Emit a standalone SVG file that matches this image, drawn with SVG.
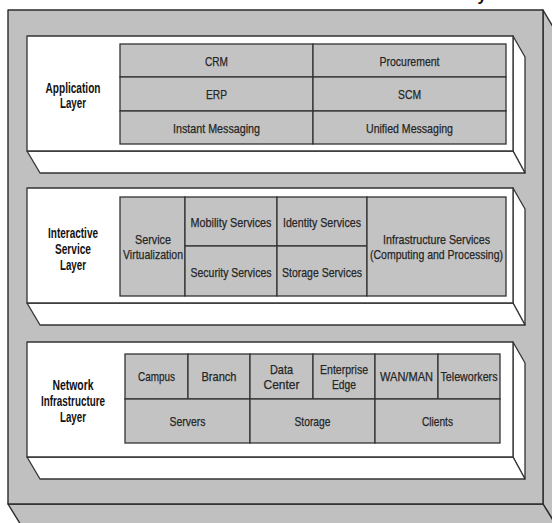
<svg xmlns="http://www.w3.org/2000/svg" width="552" height="523" viewBox="0 0 552 523">
  <style>
    .frame { fill: #c0c0c0; stroke: #2b2b2b; stroke-width: 1.4; stroke-linejoin: round; }
    .tray { fill: #ffffff; stroke: #333333; stroke-width: 1.3; stroke-linejoin: round; }
    .cell { fill: #c3c3c3; stroke: #333333; stroke-width: 1.3; }
    text { font-family: "Liberation Sans", Arial, sans-serif; fill: #262626; text-anchor: middle; }
    .cap { font-size: 13px; stroke: #262626; stroke-width: 0.25; }
    .head { font-size: 14px; font-weight: bold; fill: #111111; }
  </style>

  <rect x="0" y="0" width="552" height="523" fill="#ffffff"/>

  <!-- outer housing: front face plus right and bottom sides -->
  <g id="housing">
    <polygon class="frame" points="543,10 559,37 559,530 543,504"/>
    <polygon class="frame" points="8,504 543,504 559,530 24,530"/>
    <rect class="frame" x="8" y="10" width="535" height="494"/>
    <text x="482" y="1" style="font-size:16px;font-weight:bold;fill:#111">y</text>
  </g>

  <!-- Application layer -->
  <g id="application-layer">
    <polygon class="tray" points="513,36 525,57 525,173 513,151"/>
    <polygon class="tray" points="27,151 513,151 525,173 40,173"/>
    <rect class="tray" x="27" y="36" width="486" height="115"/>
    <text class="head" x="73" y="92.5" textLength="55" lengthAdjust="spacingAndGlyphs">Application</text>
    <text class="head" x="73" y="107.5" textLength="26" lengthAdjust="spacingAndGlyphs">Layer</text>
  </g>
  <g id="crm"><rect class="cell" x="120" y="44" width="193" height="33"/><text class="cap" x="216.5" y="65.5" textLength="23" lengthAdjust="spacingAndGlyphs">CRM</text></g>
  <g id="procurement"><rect class="cell" x="313" y="44" width="193" height="33"/><text class="cap" x="409.5" y="65.5" textLength="60" lengthAdjust="spacingAndGlyphs">Procurement</text></g>
  <g id="erp"><rect class="cell" x="120" y="77" width="193" height="34"/><text class="cap" x="216.5" y="98.5" textLength="21" lengthAdjust="spacingAndGlyphs">ERP</text></g>
  <g id="scm"><rect class="cell" x="313" y="77" width="193" height="34"/><text class="cap" x="409.5" y="98.5" textLength="23" lengthAdjust="spacingAndGlyphs">SCM</text></g>
  <g id="instant-messaging"><rect class="cell" x="120" y="111" width="193" height="33"/><text class="cap" x="216.5" y="132.5" textLength="87" lengthAdjust="spacingAndGlyphs">Instant Messaging</text></g>
  <g id="unified-messaging"><rect class="cell" x="313" y="111" width="193" height="33"/><text class="cap" x="409.5" y="132.5" textLength="87" lengthAdjust="spacingAndGlyphs">Unified Messaging</text></g>

  <!-- Interactive service layer -->
  <g id="interactive-service-layer">
    <polygon class="tray" points="513,188 525,209 525,325 513,303"/>
    <polygon class="tray" points="27,303 513,303 525,325 40,325"/>
    <rect class="tray" x="27" y="188" width="486" height="115"/>
    <text class="head" x="73" y="237.5" textLength="50" lengthAdjust="spacingAndGlyphs">Interactive</text>
    <text class="head" x="73" y="253.5" textLength="36" lengthAdjust="spacingAndGlyphs">Service</text>
    <text class="head" x="73" y="269.5" textLength="26" lengthAdjust="spacingAndGlyphs">Layer</text>
  </g>
  <g id="service-virtualization"><rect class="cell" x="120" y="197" width="65" height="99"/><text class="cap" x="153" y="243.5" textLength="36" lengthAdjust="spacingAndGlyphs">Service</text><text class="cap" x="153" y="258.5" textLength="60" lengthAdjust="spacingAndGlyphs">Virtualization</text></g>
  <g id="mobility-services"><rect class="cell" x="185" y="197" width="92" height="49"/><text class="cap" x="231" y="226.5" textLength="81" lengthAdjust="spacingAndGlyphs">Mobility Services</text></g>
  <g id="identity-services"><rect class="cell" x="277" y="197" width="90" height="49"/><text class="cap" x="322" y="226.5" textLength="78" lengthAdjust="spacingAndGlyphs">Identity Services</text></g>
  <g id="security-services"><rect class="cell" x="185" y="246" width="92" height="50"/><text class="cap" x="231" y="276.5" textLength="81" lengthAdjust="spacingAndGlyphs">Security Services</text></g>
  <g id="storage-services"><rect class="cell" x="277" y="246" width="90" height="50"/><text class="cap" x="322" y="276.5" textLength="80" lengthAdjust="spacingAndGlyphs">Storage Services</text></g>
  <g id="infrastructure-services"><rect class="cell" x="367" y="197" width="139" height="99"/><text class="cap" x="436.5" y="243.5" textLength="107" lengthAdjust="spacingAndGlyphs">Infrastructure Services</text><text class="cap" x="436.5" y="258.5" textLength="133" lengthAdjust="spacingAndGlyphs">(Computing and Processing)</text></g>

  <!-- Network infrastructure layer -->
  <g id="network-infrastructure-layer">
    <polygon class="tray" points="513,342 525,363 525,479 513,457"/>
    <polygon class="tray" points="27,457 513,457 525,479 40,479"/>
    <rect class="tray" x="27" y="342" width="486" height="115"/>
    <text class="head" x="73" y="389.5" textLength="41" lengthAdjust="spacingAndGlyphs">Network</text>
    <text class="head" x="73" y="405.5" textLength="64" lengthAdjust="spacingAndGlyphs">Infrastructure</text>
    <text class="head" x="73" y="421.5" textLength="26" lengthAdjust="spacingAndGlyphs">Layer</text>
  </g>
  <g id="campus"><rect class="cell" x="125" y="354" width="63" height="45"/><text class="cap" x="156.5" y="380.5" textLength="37" lengthAdjust="spacingAndGlyphs">Campus</text></g>
  <g id="branch"><rect class="cell" x="188" y="354" width="62" height="45"/><text class="cap" x="219" y="380.5" textLength="35" lengthAdjust="spacingAndGlyphs">Branch</text></g>
  <g id="data-center"><rect class="cell" x="250" y="354" width="63" height="45"/><text class="cap" x="281.5" y="373.5" textLength="23" lengthAdjust="spacingAndGlyphs">Data</text><text class="cap" x="281.5" y="388.5" textLength="36" lengthAdjust="spacingAndGlyphs">Center</text></g>
  <g id="enterprise-edge"><rect class="cell" x="313" y="354" width="62" height="45"/><text class="cap" x="344" y="373.5" textLength="48" lengthAdjust="spacingAndGlyphs">Enterprise</text><text class="cap" x="344" y="388.5" textLength="24" lengthAdjust="spacingAndGlyphs">Edge</text></g>
  <g id="wan-man"><rect class="cell" x="375" y="354" width="63" height="45"/><text class="cap" x="406.5" y="380.5" textLength="53" lengthAdjust="spacingAndGlyphs">WAN/MAN</text></g>
  <g id="teleworkers"><rect class="cell" x="438" y="354" width="62" height="45"/><text class="cap" x="469" y="380.5" textLength="57" lengthAdjust="spacingAndGlyphs">Teleworkers</text></g>
  <g id="servers"><rect class="cell" x="125" y="399" width="125" height="44"/><text class="cap" x="187.5" y="425.5" textLength="36" lengthAdjust="spacingAndGlyphs">Servers</text></g>
  <g id="storage"><rect class="cell" x="250" y="399" width="125" height="44"/><text class="cap" x="312.5" y="425.5" textLength="36" lengthAdjust="spacingAndGlyphs">Storage</text></g>
  <g id="clients"><rect class="cell" x="375" y="399" width="125" height="44"/><text class="cap" x="437.5" y="425.5" textLength="31" lengthAdjust="spacingAndGlyphs">Clients</text></g>
</svg>
